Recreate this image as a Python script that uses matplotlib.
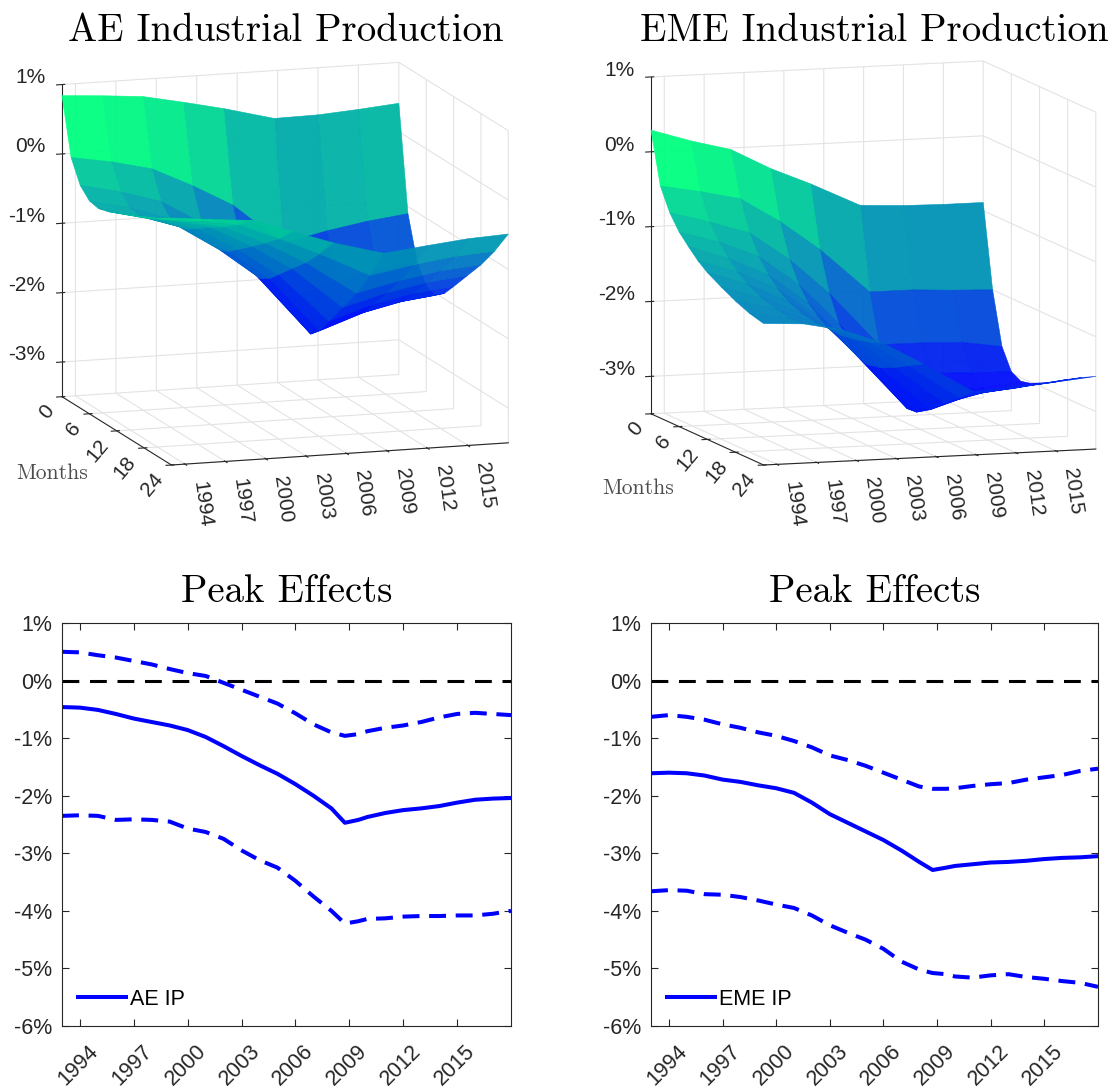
import numpy as np
import matplotlib
matplotlib.use('Agg')
import matplotlib.pyplot as plt
import matplotlib.transforms as mtransforms
from mpl_toolkits.mplot3d import proj3d

plt.rcParams['font.family'] = ['Liberation Sans', 'DejaVu Sans']
plt.rcParams['grid.color'] = '#e3e3e3'
plt.rcParams['grid.linewidth'] = 0.8

# surfaces: response by horizon (rows, months) and sample end (columns, years)
surf_years = [1993, 1996, 1999, 2002, 2005, 2008.75, 2012, 2015, 2018]
surf_months = [0, 2, 4, 6, 8, 10, 12, 15, 18, 21, 24]

ae_surf = [
    [0.84, 0.80, 0.75, 0.63, 0.50, 0.31, 0.32, 0.36, 0.41],
    [0.03, -0.07, -0.21, -0.49, -0.81, -1.41, -1.27, -1.17, -1.10],
    [-0.29, -0.42, -0.60, -0.94, -1.34, -2.11, -1.91, -1.78, -1.71],
    [-0.43, -0.57, -0.77, -1.13, -1.58, -2.41, -2.19, -2.05, -1.98],
    [-0.46, -0.60, -0.80, -1.17, -1.62, -2.47, -2.24, -2.10, -2.03],
    [-0.42, -0.56, -0.75, -1.11, -1.54, -2.34, -2.12, -1.99, -1.92],
    [-0.36, -0.49, -0.66, -1.00, -1.40, -2.12, -1.92, -1.80, -1.74],
    [-0.27, -0.38, -0.52, -0.83, -1.19, -1.80, -1.63, -1.52, -1.46],
    [-0.17, -0.27, -0.39, -0.66, -0.98, -1.47, -1.33, -1.23, -1.18],
    [-0.07, -0.14, -0.23, -0.47, -0.73, -1.09, -0.98, -0.90, -0.86],
    [0.06, 0.00, -0.05, -0.25, -0.45, -0.65, -0.58, -0.52, -0.49],
]

eme_surf = [
    [0.29, 0.12, -0.02, -0.30, -0.53, -0.85, -0.88, -0.89, -0.89],
    [-0.40, -0.50, -0.62, -0.95, -1.35, -1.95, -1.95, -1.98, -2.00],
    [-0.70, -0.85, -1.02, -1.40, -1.88, -2.60, -2.60, -2.62, -2.70],
    [-0.90, -1.06, -1.28, -1.68, -2.22, -2.98, -2.95, -2.97, -2.98],
    [-1.04, -1.22, -1.47, -1.87, -2.43, -3.20, -3.13, -3.12, -3.05],
    [-1.17, -1.35, -1.60, -1.99, -2.55, -3.28, -3.15, -3.10, -3.02],
    [-1.27, -1.45, -1.70, -2.07, -2.60, -3.27, -3.09, -3.03, -2.96],
    [-1.38, -1.55, -1.78, -2.10, -2.56, -3.15, -2.97, -2.92, -2.86],
    [-1.48, -1.61, -1.82, -2.07, -2.47, -2.98, -2.85, -2.80, -2.74],
    [-1.56, -1.65, -1.80, -2.02, -2.36, -2.82, -2.73, -2.69, -2.63],
    [-1.61, -1.64, -1.75, -1.95, -2.25, -2.65, -2.62, -2.58, -2.53],
]

# peak effects
years = [1993, 1994, 1995, 1996, 1997, 1998, 1999, 2000, 2001, 2002, 2003, 2004, 2005,
         2006, 2007, 2008, 2008.75, 2009.5, 2010, 2011, 2012, 2013, 2014, 2015, 2016, 2017, 2018]
ae_mid = [-0.46, -0.47, -0.51, -0.58, -0.66, -0.72, -0.78, -0.86, -0.98, -1.14, -1.31, -1.47, -1.62,
          -1.80, -2.00, -2.22, -2.47, -2.42, -2.37, -2.30, -2.25, -2.22, -2.18, -2.12, -2.07, -2.05, -2.04]
ae_hi = [0.50, 0.49, 0.44, 0.40, 0.34, 0.28, 0.20, 0.13, 0.08, -0.04, -0.16, -0.28, -0.40,
         -0.57, -0.76, -0.90, -0.96, -0.93, -0.88, -0.82, -0.78, -0.72, -0.64, -0.58, -0.56, -0.58, -0.60]
ae_lo = [-2.35, -2.34, -2.35, -2.42, -2.41, -2.42, -2.45, -2.57, -2.63, -2.75, -2.95, -3.12, -3.25,
         -3.48, -3.75, -4.00, -4.22, -4.18, -4.14, -4.13, -4.10, -4.09, -4.09, -4.08, -4.08, -4.05, -4.00]
eme_mid = [-1.61, -1.60, -1.61, -1.65, -1.72, -1.76, -1.82, -1.87, -1.95, -2.12, -2.32, -2.47, -2.62,
           -2.77, -2.95, -3.15, -3.29, -3.25, -3.22, -3.19, -3.16, -3.15, -3.13, -3.10, -3.08, -3.07, -3.05]
eme_hi = [-0.63, -0.60, -0.63, -0.68, -0.76, -0.82, -0.90, -0.96, -1.05, -1.16, -1.30, -1.38, -1.48,
          -1.60, -1.72, -1.84, -1.88, -1.88, -1.87, -1.83, -1.80, -1.78, -1.72, -1.68, -1.64, -1.57, -1.53]
eme_lo = [-3.66, -3.64, -3.65, -3.71, -3.72, -3.76, -3.82, -3.89, -3.95, -4.08, -4.25, -4.38, -4.50,
          -4.66, -4.88, -5.02, -5.08, -5.10, -5.14, -5.16, -5.12, -5.10, -5.15, -5.18, -5.22, -5.25, -5.32]

year_ticks = [1994, 1997, 2000, 2003, 2006, 2009, 2012, 2015]
month_ticks = [0, 6, 12, 18, 24]

W, H = 1112, 1088
fig = plt.figure(figsize=(W / 100, H / 100), dpi=100)
DARK = '0.15'


def place_box(ax, left, top, right, bottom):
    # move the 3d axes so its box lands on the given pixel rectangle
    fig.canvas.draw()
    x0, x1 = ax.get_xlim3d()
    y0, y1 = ax.get_ylim3d()
    z0, z1 = ax.get_zlim3d()
    cx, cy, cz = [a.ravel() for a in np.meshgrid([x0, x1], [y0, y1], [z0, z1])]
    px, py, _ = proj3d.proj_transform(cx, cy, cz, ax.get_proj())
    d = ax.transData.transform(np.column_stack([px, py]))
    s = ((right - left) / np.ptp(d[:, 0]) + (bottom - top) / np.ptp(d[:, 1])) / 2
    pos = ax.get_position()
    p0x, p0y, pw, ph = pos.x0 * W, pos.y0 * H, pos.width * W, pos.height * H
    nx0 = left - (d[:, 0].min() - p0x) * s
    ny0 = (H - bottom) - (d[:, 1].min() - p0y) * s
    ax.set_position([nx0 / W, ny0 / H, pw * s / W, ph * s / H])


def surface_panel(Z, elev, aspect, box, title, months_xy):
    ax = fig.add_axes([0.05, 0.5, 0.4, 0.4], projection='3d', proj_type='ortho')
    X, Y = np.meshgrid(surf_years, surf_months)
    surf = ax.plot_surface(X, Y, np.array(Z), cmap='winter', rstride=1, cstride=1,
                           linewidth=0.4, antialiased=True, alpha=0.95)
    surf.set_edgecolor('face')
    ax.set_xlim(1993, 2018)
    ax.set_ylim(24, 0)
    ax.set_zlim(-3.5, 1)
    ax.view_init(elev=elev, azim=-108)
    ax.set_box_aspect(aspect)
    ax.set_xticks(year_ticks, [str(y) for y in year_ticks], rotation=-82, ha='left', va='top')
    ax.set_yticks(month_ticks, [str(m) for m in month_ticks], rotation=50, ha='right', va='top')
    ax.set_zticks([-3, -2, -1, 0, 1], ['-3%', '-2%', '-1%', '0%', '1%'], ha='right', va='baseline')
    ax.tick_params(labelsize=15, labelcolor=DARK, colors=DARK)
    ax.tick_params(axis='x', pad=1)
    ax.tick_params(axis='y', pad=-5)
    ax.tick_params(axis='z', pad=0)
    for axis in (ax.xaxis, ax.yaxis, ax.zaxis):
        axis.set_pane_color((1, 1, 1, 0))
        axis.pane.set_edgecolor('#d0d0d0')
        axis.line.set_color(DARK)
        axis.line.set_linewidth(0.8)
    place_box(ax, *box)
    fig.text((box[0] + box[2]) / 2 / W, 1 - 31 / H, title, fontfamily='cmr10', fontsize=28,
             ha='center', va='center')
    fig.text(months_xy[0] / W, 1 - months_xy[1] / H, 'Months', fontfamily='cmr10',
             fontsize=15.5, color='0.3', ha='left', va='center')
    return ax


def peak_panel(box, mid, lo, hi, label):
    left, top, right, bottom = box
    ax = fig.add_axes([left / W, 1 - bottom / H, (right - left) / W, (bottom - top) / H])
    ax.plot(years, hi, color='blue', lw=2.9, dashes=(4.2, 2.4))
    ax.plot(years, lo, color='blue', lw=2.9, dashes=(4.2, 2.4))
    ax.plot(years, mid, color='blue', lw=2.9, label=label)
    ax.axhline(0, color='black', lw=2.2, dashes=(5.5, 3.5))
    ax.set_xlim(1993, 2018)
    ax.set_ylim(-6, 1)
    ax.set_xticks(year_ticks, [str(y) for y in year_ticks], rotation=45, ha='right',
                  va='center', rotation_mode='anchor')
    ax.set_yticks(range(-6, 2), [f'{v}%' for v in range(-6, 2)])
    ax.tick_params(direction='in', top=True, right=True, length=5, width=0.8,
                   colors=DARK, labelcolor=DARK, labelsize=15.5)
    ax.tick_params(axis='y', pad=7)
    ax.tick_params(axis='x', pad=16)
    shift = mtransforms.ScaledTranslation(15 / 100, 0, fig.dpi_scale_trans)
    for lab in ax.get_xticklabels():
        lab.set_transform(lab.get_transform() + shift)
    for sp in ax.spines.values():
        sp.set_color(DARK)
        sp.set_linewidth(0.8)
    ax.legend(loc='lower left', frameon=False, fontsize=15.5, handlelength=2.2,
              handletextpad=0.2, borderaxespad=0.35)
    fig.text((left + right) / 2 / W, 1 - 592 / H, 'Peak Effects', fontfamily='cmr10',
             fontsize=28, ha='center', va='center')
    return ax


surface_panel(ae_surf, 11.7, (1, 1, 0.90), (62, 63, 509, 465),
              'AE Industrial Production', (16, 473))
surface_panel(eme_surf, 8.5, (1, 1.043, 0.975), (651, 63, 1098, 465),
              'EME Industrial Production', (602, 488))

peak_panel((62, 623, 511, 1026), ae_mid, ae_lo, ae_hi, 'AE IP')
peak_panel((651, 623, 1098, 1026), eme_mid, eme_lo, eme_hi, 'EME IP')

fig.savefig('out.png', dpi=100)
